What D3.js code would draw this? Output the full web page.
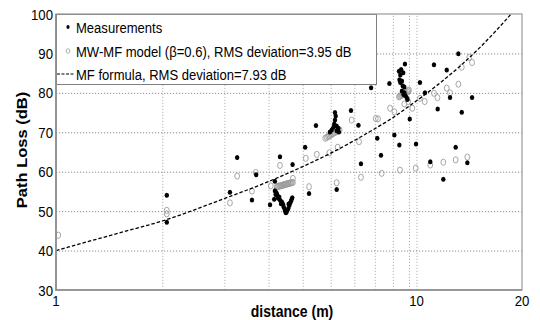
<!DOCTYPE html>
<html>
<head>
<meta charset="utf-8">
<script src="https://cdn.jsdelivr.net/npm/d3@7"></script>
<style>
  body { margin: 0; background: #fff; }
  svg { display: block; font-family: "Liberation Sans", Arial, sans-serif; }
</style>
</head>
<body>
<svg id="chart" width="540" height="320"></svg>
<script>
// measurements (black dots)
const measDist = [2.06, 2.06, 3.26, 3.11, 3.69, 3.59, 4.68, 4.17, 4.04, 4.15, 4.31,
  4.17, 4.20, 4.22, 4.24, 4.26, 4.31, 4.36, 4.38, 4.40, 4.42, 4.45, 4.48, 4.50, 4.52, 4.55, 4.58, 4.60, 4.63, 4.65, 4.67,
  4.19, 4.29, 4.34, 4.47, 4.56,
  5.21, 5.08, 5.45, 6.24, 6.85, 7.19, 7.31, 7.81, 8.13, 8.33, 8.80, 9.09, 9.39, 9.74, 10.05, 10.47, 10.74,
  6.17, 6.20, 6.17, 6.14, 6.24, 6.11, 6.31, 6.04, 6.24, 5.97, 6.33,
  9.37, 9.50, 9.63, 9.45, 9.40, 9.55, 9.45, 9.60, 9.70, 9.55, 9.70, 9.76, 9.85, 9.65, 9.90,
  13.8, 11.77, 12.79, 11.10, 13.07, 15.09, 12.06, 14.11, 13.56, 11.49, 14.63, 12.51];
const measLoss = [54.0, 47.2, 63.6, 54.8, 59.2, 52.8, 61.8, 57.6, 51.6, 53.0, 63.8,
  55.2, 54.8, 54.5, 53.9, 53.3, 52.8, 52.4, 52.0, 51.6, 51.0, 50.3, 49.6, 49.8, 50.2, 50.7, 51.4, 52.0, 52.5, 53.0, 53.4,
  54.2, 53.6, 51.9, 49.8, 51.8,
  54.5, 66.2, 71.7, 55.5, 75.5, 71.8, 62.0, 81.3, 68.5, 64.2, 82.4, 69.3, 66.8, 87.3, 73.4, 67.0, 82.6,
  75.0, 74.1, 73.1, 72.1, 71.6, 71.3, 71.0, 70.6, 70.4, 70.1, 70.1,
  85.5, 85.9, 85.1, 84.5, 83.3, 83.0, 82.6, 81.8, 81.5, 80.5, 80.0, 79.3, 78.8, 79.6, 78.3,
  89.9, 87.1, 85.8, 80.0, 78.8, 78.8, 75.9, 75.1, 66.2, 62.5, 62.3, 58.1];

// MW-MF model (grey rings)
const modelDist = [1.015, 2.06, 2.06, 3.26, 3.11, 3.68, 3.59, 4.31, 4.06, 4.69,
  4.22, 4.25, 4.27, 4.30, 4.32, 4.35, 4.37, 4.40, 4.42, 4.45, 4.47, 4.50, 4.52, 4.55, 4.57, 4.60, 4.63, 4.66, 4.69,
  5.10, 5.48, 5.95, 6.28, 5.21, 6.24, 6.88, 7.31, 7.22, 8.05, 8.17, 8.37, 8.84, 9.09, 9.43, 9.70, 9.95, 10.22, 10.45,
  5.79, 5.85, 5.90, 5.95, 6.00, 6.05, 6.10, 6.16, 6.22, 6.29, 6.36,
  9.37, 9.42, 9.48, 9.54, 9.60, 9.66, 9.72, 9.80, 9.88, 9.95, 10.0,
  14.82, 15.09, 14.11, 13.8, 12.79, 13.07, 11.77, 12.04, 11.08, 10.74, 11.49, 12.51, 13.56, 14.63];
const modelLoss = [43.9, 50.2, 49.3, 58.9, 52.1, 59.8, 55.1, 61.6, 56.4, 58.3,
  56.2, 56.2, 56.3, 56.4, 56.4, 56.5, 56.5, 56.6, 56.7, 56.7, 56.8, 56.9, 56.9, 57.0, 57.0, 57.1, 57.2, 57.2, 57.3,
  63.4, 64.4, 64.8, 66.2, 56.2, 57.2, 73.1, 58.6, 67.6, 73.5, 73.4, 59.6, 76.1, 75.2, 60.4, 77.2, 77.8, 76.1, 60.9,
  68.5, 68.7, 68.9, 69.1, 69.3, 69.5, 69.7, 69.9, 70.1, 70.4, 70.6,
  79.0, 79.1, 79.3, 79.4, 79.6, 79.8, 79.9, 80.1, 80.3, 80.5, 80.7,
  89.0, 87.7, 86.5, 82.2, 81.2, 80.0, 79.9, 78.8, 77.8, 78.6, 61.7, 62.4, 63.0, 63.7];

// MF formula
const mfDist = [1, 1.5, 2, 3, 4, 5, 6, 7, 8, 9, 10, 12, 14, 16, 18, 20];
const mfLoss = [40, 44.4, 47.5, 53.2, 57.5, 61.3, 64.7, 67.9, 70.9, 73.7, 76.6, 81.9, 86.9, 91.8, 96.6, 101.2];

const yTicks = [30, 40, 50, 60, 70, 80, 90, 100];
const yGrid = [40, 50, 60, 70, 80, 90];
const xTickValues = [1, 10.5, 20.9];
const xTickLabels = ["1", "10", "20"];
const xGrid = [2, 3, 4, 5, 6, 7, 8, 9, 10, 10.5];
const legendLabels = ["Measurements", "MW-MF model (\u03B2=0.6), RMS deviation=3.95 dB", "MF formula, RMS deviation=7.93 dB"];

const SX = 0.85; // the figure is squeezed sideways
const plotL = 56, plotR = 522, plotT = 14, plotB = 290;

const svg = d3.select("#chart");

const x = d3.scaleLog().domain([1, 20.9]).range([plotL, plotR]);
const y = d3.scaleLinear().domain([30, 100]).range([plotB, plotT]);

// grid
svg.append("g")
  .attr("transform", `translate(0,${plotB})`)
  .call(d3.axisBottom(x).tickValues(xGrid).tickSize(-(plotB - plotT)).tickFormat(""))
  .call(g => g.select(".domain").remove())
  .selectAll("line")
    .attr("stroke", "#b4b4b4")
    .attr("stroke-dasharray", "1.2,1.8");

svg.append("g")
  .attr("transform", `translate(${plotL},0)`)
  .call(d3.axisLeft(y).tickValues(yGrid).tickSize(-(plotR - plotL)).tickFormat(""))
  .call(g => g.select(".domain").remove())
  .selectAll("line")
    .attr("stroke", "#8c8c8c")
    .attr("stroke-dasharray", "1.2,1.8");

svg.append("clipPath").attr("id", "plot")
  .append("rect").attr("x", plotL).attr("y", plotT).attr("width", plotR - plotL).attr("height", plotB - plotT);

const body = svg.append("g").attr("clip-path", "url(#plot)");

body.append("g")
  .selectAll("ellipse")
  .data(d3.zip(modelDist, modelLoss))
  .join("ellipse")
    .attr("cx", d => x(d[0]))
    .attr("cy", d => y(d[1]))
    .attr("rx", 2.4)
    .attr("ry", 3.1)
    .attr("fill", "none")
    .attr("stroke", "#9c9c9c")
    .attr("stroke-width", 0.9);

body.append("g")
  .selectAll("ellipse")
  .data(d3.zip(measDist, measLoss))
  .join("ellipse")
    .attr("cx", d => x(d[0]))
    .attr("cy", d => y(d[1]))
    .attr("rx", 2.2)
    .attr("ry", 2.5)
    .attr("fill", "#000");

const line = d3.line()
  .x(d => x(d[0]))
  .y(d => y(d[1]))
  .curve(d3.curveMonotoneX);

body.append("path")
  .datum(d3.zip(mfDist, mfLoss))
  .attr("d", line)
  .attr("fill", "none")
  .attr("stroke", "#000")
  .attr("stroke-width", 1.3)
  .attr("stroke-dasharray", "3.5,2");

// legend
const lg = svg.append("g");
lg.append("rect")
  .attr("x", plotL + 0.5).attr("y", plotT + 0.5)
  .attr("width", 320).attr("height", 70)
  .attr("fill", "#fff").attr("stroke", "#808080");

const rowY = [27, 51, 74];
lg.append("ellipse").attr("cx", 68).attr("cy", rowY[0]).attr("rx", 1.6).attr("ry", 1.9).attr("fill", "#000");
lg.append("ellipse").attr("cx", 68).attr("cy", rowY[1]).attr("rx", 1.8).attr("ry", 2.3)
  .attr("fill", "none").attr("stroke", "#9c9c9c").attr("stroke-width", 0.8);
lg.append("line").attr("x1", 57).attr("x2", 75).attr("y1", rowY[2]).attr("y2", rowY[2])
  .attr("stroke", "#000").attr("stroke-width", 1.2).attr("stroke-dasharray", "3,1.5");

lg.selectAll("text")
  .data(legendLabels)
  .join("text")
    .attr("transform", (d, i) => `translate(76,${rowY[i] + 5.5}) scale(0.87,1)`)
    .attr("font-size", 15)
    .text(d => d);

// frame
svg.append("rect")
  .attr("x", plotL).attr("y", plotT)
  .attr("width", plotR - plotL).attr("height", plotB - plotT)
  .attr("fill", "none").attr("stroke", "#999").attr("stroke-width", 1.2);
svg.append("path")
  .attr("d", `M${plotL},${plotT}V${plotB}H${plotR}`)
  .attr("fill", "none").attr("stroke", "#8a8a8a").attr("stroke-width", 1.6);

// tick labels
svg.append("g")
  .selectAll("text")
  .data(yTicks)
  .join("text")
    .attr("transform", d => `translate(${plotL - 3},${y(d) + 5.5}) scale(${SX},1)`)
    .attr("text-anchor", "end")
    .attr("font-size", 15.5)
    .text(d => d);

svg.append("g")
  .selectAll("text")
  .data(xTickValues)
  .join("text")
    .attr("transform", d => `translate(${x(d)},${plotB + 16}) scale(${SX},1)`)
    .attr("text-anchor", "middle")
    .attr("font-size", 15.5)
    .text((d, i) => xTickLabels[i]);

// axis titles
svg.append("text")
  .attr("transform", `translate(292,${plotB + 27}) scale(${SX},1)`)
  .attr("text-anchor", "middle")
  .attr("font-size", 16.5)
  .attr("font-weight", "bold")
  .text("distance (m)");

svg.append("text")
  .attr("transform", `translate(27,150) scale(${SX},1) rotate(-90)`)
  .attr("text-anchor", "middle")
  .attr("font-size", 16.5)
  .attr("font-weight", "bold")
  .text("Path Loss (dB)");
</script>
</body>
</html>
